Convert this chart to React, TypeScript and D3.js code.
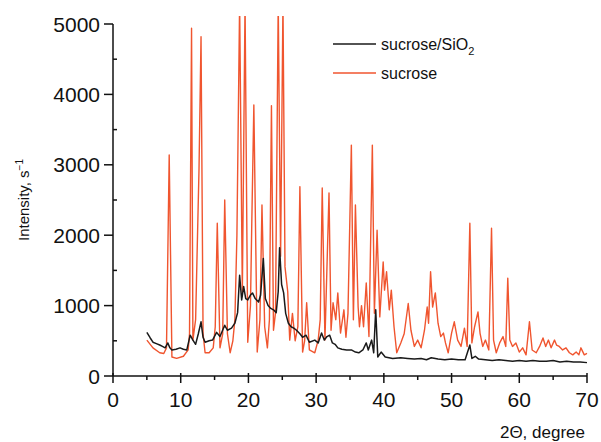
import React from 'react'
import * as d3 from 'd3'

// sucrose (red), [2θ, counts/s]
const sucrose: [number, number][] = [
  [5.0, 510], [5.9, 400], [6.9, 330], [7.5, 320], [7.9, 400], [8.3, 3140], [8.7, 270],
  [9.4, 250], [10.4, 280], [11.1, 370], [11.3, 600], [11.6, 4940], [11.8, 510], [12.2, 800],
  [12.7, 2930], [13.0, 4820], [13.3, 600], [13.6, 330], [14.2, 330], [14.8, 400], [15.1, 700],
  [15.4, 2170], [15.8, 400], [16.2, 600], [16.5, 2500], [16.9, 600], [17.3, 330], [17.7, 500],
  [18.0, 800], [18.3, 2000], [18.7, 5300], [19.1, 1180], [19.5, 5300], [19.9, 480], [20.3, 1000],
  [20.5, 2200], [20.8, 3850], [21.3, 340], [21.7, 800], [22.0, 2430], [22.4, 700], [22.8, 400],
  [23.1, 800], [23.4, 3840], [23.7, 650], [24.0, 900], [24.4, 5300], [24.75, 1700], [25.1, 5300],
  [25.4, 1550], [25.8, 1200], [26.1, 510], [26.5, 890], [26.9, 500], [27.3, 700], [27.6, 2690],
  [28.0, 340], [28.3, 500], [28.6, 1040], [29.0, 370], [29.8, 330], [30.3, 510], [30.6, 800],
  [30.9, 2670], [31.3, 510], [31.9, 2600], [32.2, 650], [32.5, 1040], [32.9, 800], [33.2, 1180],
  [33.6, 610], [34.1, 940], [34.4, 550], [34.7, 890], [35.2, 3280], [35.5, 800], [35.8, 2430],
  [36.2, 980], [36.4, 700], [36.7, 1000], [37.0, 700], [37.4, 1320], [37.8, 560], [38.3, 3280],
  [38.6, 890], [39.0, 2070], [39.4, 840], [39.9, 1620], [40.1, 1220], [40.4, 1480], [40.8, 940],
  [41.1, 1220], [41.5, 700], [41.9, 330], [42.5, 470], [43.0, 600], [43.6, 1030], [44.0, 650],
  [44.5, 420], [45.0, 510], [45.5, 400], [46.0, 650], [46.4, 980], [46.6, 750], [46.9, 1480],
  [47.2, 980], [47.6, 1180], [48.0, 750], [48.4, 560], [48.8, 610], [49.1, 470], [49.5, 330],
  [50.0, 610], [50.4, 770], [50.9, 510], [51.4, 420], [51.9, 680], [52.3, 420], [52.7, 2170],
  [53.0, 470], [53.4, 700], [53.9, 910], [54.2, 610], [54.6, 420], [55.0, 510], [55.5, 370],
  [55.9, 2100], [56.2, 510], [56.6, 330], [57.1, 470], [57.6, 560], [58.0, 420], [58.3, 1390],
  [58.6, 510], [59.0, 420], [59.5, 470], [60.0, 340], [60.5, 400], [61.0, 300], [61.5, 770],
  [61.9, 370], [62.5, 330], [63.0, 420], [63.5, 540], [63.9, 420], [64.3, 510], [64.7, 400],
  [65.2, 510], [65.5, 440], [65.9, 420], [66.4, 370], [66.9, 400], [67.4, 330], [67.9, 300],
  [68.4, 340], [68.8, 300], [69.1, 400], [69.6, 300], [70.0, 320]
]

// sucrose/SiO2 (black)
const sucroseSiO2: [number, number][] = [
  [5.0, 620], [5.5, 540], [5.9, 480], [6.4, 460], [6.9, 440], [7.3, 420], [7.7, 400], [8.1, 470],
  [8.4, 400], [8.7, 370], [9.3, 380], [9.9, 400], [10.4, 380], [10.9, 370], [11.4, 580], [11.8, 510],
  [12.2, 450], [12.6, 600], [13.0, 770], [13.3, 550], [13.6, 480], [14.2, 500], [14.7, 510],
  [15.3, 620], [15.8, 560], [16.5, 720], [16.9, 650], [17.5, 680], [18.0, 750], [18.4, 900],
  [18.7, 1430], [19.0, 1080], [19.3, 1270], [19.6, 1100], [19.9, 1080], [20.3, 1150], [20.6, 1180],
  [21.0, 1100], [21.5, 1050], [21.8, 1150], [22.2, 1670], [22.5, 1100], [22.9, 1000], [23.3, 960],
  [23.7, 940], [24.1, 900], [24.4, 1200], [24.6, 1820], [24.9, 1300], [25.2, 1180], [25.5, 890],
  [25.9, 750], [26.3, 700], [26.7, 680], [27.1, 650], [27.6, 600], [28.0, 550], [28.5, 580],
  [29.0, 480], [29.8, 510], [30.3, 470], [30.8, 610], [31.2, 510], [31.6, 560], [32.0, 580],
  [32.4, 470], [32.8, 450], [33.2, 400], [33.8, 380], [34.5, 370], [35.2, 370], [35.8, 340],
  [36.3, 330], [36.9, 370], [37.4, 470], [37.7, 370], [38.2, 510], [38.5, 330], [38.8, 940],
  [39.1, 270], [39.6, 340], [40.2, 270], [41.3, 250], [42.5, 260], [43.5, 250], [44.5, 240],
  [45.5, 250], [46.3, 230], [47.0, 260], [48.0, 240], [49.0, 230], [50.0, 240], [51.0, 230],
  [52.0, 230], [52.7, 440], [53.0, 250], [53.5, 280], [54.0, 240], [55.0, 230], [56.0, 220],
  [57.0, 230], [58.0, 220], [59.0, 210], [60.0, 220], [61.0, 210], [62.0, 220], [63.0, 210],
  [64.0, 210], [65.0, 220], [66.0, 200], [67.0, 210], [68.0, 200], [69.0, 200], [70.0, 190]
]

const xTicks = [0, 10, 20, 30, 40, 50, 60, 70]
const yTicks = [0, 1000, 2000, 3000, 4000, 5000]

const W = 601
const H = 442
const font = 'Liberation Sans, Arial, sans-serif'

export default function App () {
  const x = d3.scaleLinear().domain([0, 70]).range([113, 587])
  const y = d3.scaleLinear().domain([0, 5000]).range([376, 24])
  const line = d3.line<[number, number]>().x(d => x(d[0])).y(d => y(d[1]))

  const xMinor = d3.range(5, 70, 10)
  const yMinor = d3.range(500, 5000, 1000)

  return (
    <div style={{ position: 'absolute', left: 0, top: 0 }}>
      <svg width={W} height={H} style={{ display: 'block', background: '#fff' }}>
        <defs>
          <clipPath id='plot'>
            <rect x={113} y={16} width={480} height={362} />
          </clipPath>
        </defs>
        <g clipPath='url(#plot)' fill='none'>
          <path d={line(sucrose) || ''} stroke='#f0552f' strokeWidth={1.4} strokeLinejoin='round' />
          <path d={line(sucroseSiO2) || ''} stroke='#1a1a1a' strokeWidth={1.5} strokeLinejoin='round' />
        </g>

        {/* axes */}
        <g stroke='#111' strokeWidth={1.5}>
          <line x1={x(0)} x2={x(0)} y1={y(5000)} y2={y(0)} />
          <line x1={x(0)} x2={x(70)} y1={y(0)} y2={y(0)} />
          {yTicks.map(t => <line key={'y' + t} x1={x(0) - 9} x2={x(0)} y1={y(t)} y2={y(t)} />)}
          {yMinor.map(t => <line key={'ym' + t} x1={x(0)} x2={x(0) + 4} y1={y(t)} y2={y(t)} />)}
          {xTicks.map(t => <line key={'x' + t} x1={x(t)} x2={x(t)} y1={y(0) - 3} y2={y(0) + 7} />)}
          {xMinor.map(t => <line key={'xm' + t} x1={x(t)} x2={x(t)} y1={y(0)} y2={y(0) + 4} />)}
        </g>
        <g fontFamily={font} fontSize={21} fill='#111'>
          {yTicks.map(t => (
            <text key={t} x={100} y={y(t) + 7.5} textAnchor='end'>{t}</text>
          ))}
          {xTicks.map(t => (
            <text key={t} x={x(t)} y={407} textAnchor='middle'>{t}</text>
          ))}
        </g>
        <text x={585} y={438} textAnchor='end' fontFamily={font} fontSize={17} fill='#111'>2Θ, degree</text>
        <text transform='translate(29,200) rotate(-90)' textAnchor='middle' fontFamily={font} fontSize={15} fill='#111'>
          Intensity, s<tspan dy={-6} fontSize={10}>−1</tspan>
        </text>

        {/* legend */}
        <line x1={333} x2={376} y1={44} y2={44} stroke='#1a1a1a' strokeWidth={1.5} />
        <line x1={333} x2={376} y1={73} y2={73} stroke='#f0552f' strokeWidth={1.4} />
        <g fontFamily={font} fontSize={16} fill='#111'>
          <text x={381} y={50}>sucrose/SiO<tspan dy={5} fontSize={11}>2</tspan></text>
          <text x={381} y={79}>sucrose</text>
        </g>
      </svg>
    </div>
  )
}
